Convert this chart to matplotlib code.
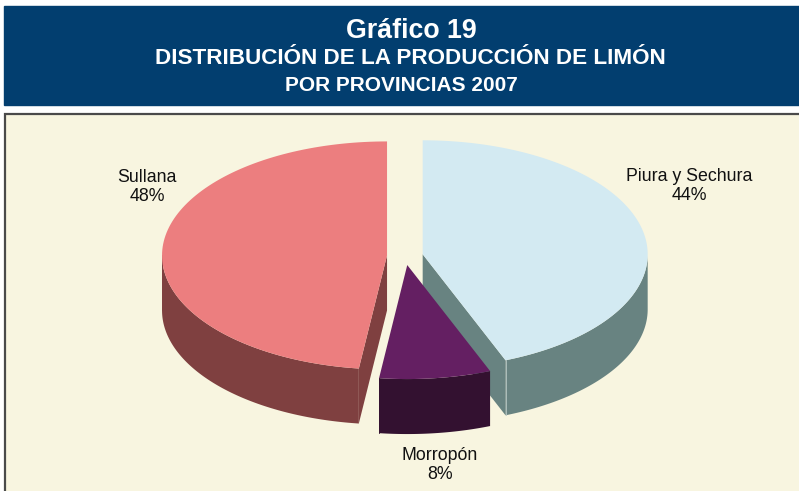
import numpy as np
import matplotlib
matplotlib.use("Agg")
import matplotlib.pyplot as plt
from matplotlib.patches import Polygon, Rectangle

plt.rcParams['font.family'] = ['Liberation Sans', 'DejaVu Sans']

# data
provincias = ['Piura y Sechura', 'Morropón', 'Sullana']
porcentajes = [44, 8, 48]
top_colors = ['#d3eaf2', '#641f62', '#ec7e7f']
side_colors = ['#688381', '#331130', '#7f4040']
label_pos = [(689, 186), (440, 465), (147, 187)]

title_1 = 'Gráfico 19'
title_2 = 'DISTRIBUCIÓN DE LA PRODUCCIÓN DE LIMÓN'
title_3 = 'POR PROVINCIAS 2007'

# pie geometry (pixels)
cx, cy = 405, 256
rx, ry = 225, 114
depth = 55
explode = 0.08


def rim(ox, oy, t):
    t = np.radians(t)
    return ox + rx * np.cos(t), oy - ry * np.sin(t)


def arc(ox, oy, t0, t1, n=120):
    ts = np.linspace(t0, t1, n)
    xs, ys = rim(ox, oy, ts)
    return np.column_stack([xs, ys])


fig = plt.figure(figsize=(7.99, 4.91), dpi=100)
ax = fig.add_axes([0, 0, 1, 1])
ax.set_xlim(0, 799)
ax.set_ylim(491, 0)
ax.axis('off')

# banner
ax.add_patch(Rectangle((4, 6), 800, 99, color='#023e6f', zorder=1))
ax.text(411, 37.5, title_1, color='white', fontsize=19.3, fontweight='bold',
        ha='center', va='baseline', zorder=2)
ax.text(410, 64, title_2, color='white', fontsize=16.2, fontweight='bold',
        ha='center', va='baseline', zorder=2)
ax.text(401, 91, title_3, color='white', fontsize=15, fontweight='bold',
        ha='center', va='baseline', zorder=2)

# chart frame
ax.add_patch(Rectangle((4, 113), 800, 400, facecolor='#f8f5e0',
                       edgecolor='none', zorder=1))
ax.plot([5, 5, 800], [495, 114, 114], color='#4a4a4a', lw=1.6, zorder=2,
        solid_joinstyle='miter')

# slices, clockwise from 12 o'clock
cum = np.cumsum([0] + porcentajes)
slices = []
for i, v in enumerate(porcentajes):
    hi = 90 - cum[i] / 100 * 360
    lo = 90 - cum[i + 1] / 100 * 360
    mid = np.radians((hi + lo) / 2)
    ox = cx + explode * rx * np.cos(mid)
    oy = cy - explode * ry * np.sin(mid)
    slices.append((lo, hi, ox, oy))

# radial cut faces
for i, (lo, hi, ox, oy) in enumerate(slices):
    for a, n in ((lo, lo - 90), (hi, hi + 90)):
        if np.sin(np.radians(n)) < -1e-6:
            px, py = rim(ox, oy, a)
            poly = [(ox, oy), (px, py), (px, py + depth), (ox, oy + depth)]
            ax.add_patch(Polygon(poly, closed=True, facecolor=side_colors[i],
                                 edgecolor='none', zorder=3))

# outer curved sides (front half only)
for i, (lo, hi, ox, oy) in enumerate(slices):
    for k in (-1, 0, 1):
        a0 = max(lo, -180 + 360 * k)
        a1 = min(hi, 0 + 360 * k)
        if a1 > a0:
            top = arc(ox, oy, a0, a1)
            bot = top[::-1] + [0, depth]
            ax.add_patch(Polygon(np.vstack([top, bot]), closed=True,
                                 facecolor=side_colors[i], edgecolor='none',
                                 zorder=4))
            # faint light edge where the side meets the cut face
            ax.plot([top[0, 0], top[0, 0]], [top[0, 1], top[0, 1] + depth],
                    color='#b9c9c6' if i == 0 else side_colors[i], lw=0.6,
                    zorder=4.5)

# top faces
for i, (lo, hi, ox, oy) in enumerate(slices):
    pts = np.vstack([[ox, oy], arc(ox, oy, hi, lo)])
    ax.add_patch(Polygon(pts, closed=True, facecolor=top_colors[i],
                         edgecolor='none', zorder=5))

# labels
for name, v, (lx, ly) in zip(provincias, porcentajes, label_pos):
    ax.text(lx, ly, f'{name}\n{v}%', fontsize=12.8, ha='center', va='center',
            linespacing=1.15, color='#111111', zorder=6)

fig.savefig('out.png', dpi=100)
